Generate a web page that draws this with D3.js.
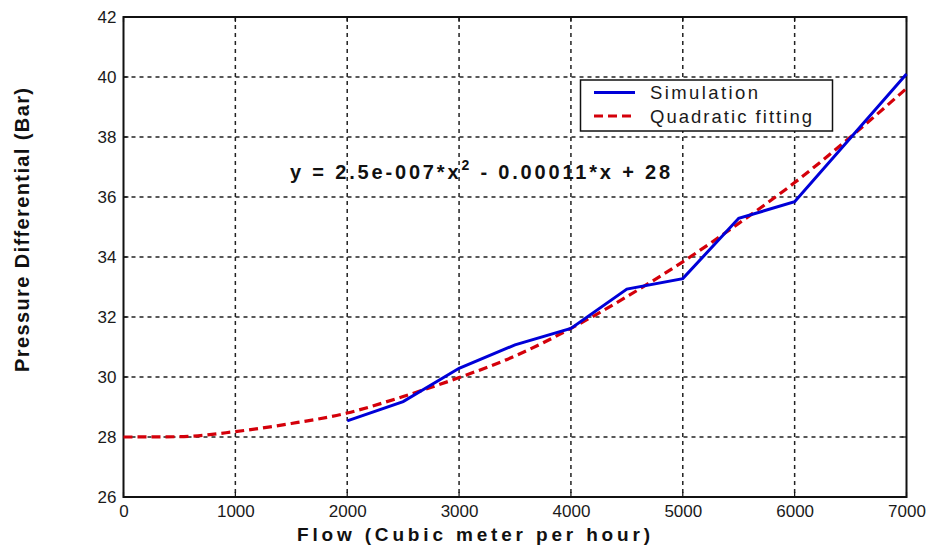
<!DOCTYPE html>
<html><head><meta charset="utf-8">
<script src="https://cdn.jsdelivr.net/npm/d3@7"></script>
<style>
body{margin:0;background:#fff;}
text{font-family:"Liberation Sans",Arial,sans-serif;}
</style></head>
<body><svg id="c" width="932" height="547"></svg>
<script>
const simFlow = [2000, 2500, 3000, 3500, 4000, 4500, 5000, 5500, 6000, 7000];
const simPressure = [28.54, 29.18, 30.29, 31.07, 31.62, 32.93, 33.28, 35.29, 35.84, 40.1];
const fitFlow = [0, 500, 1000, 1500, 2000, 2500, 3000, 3500, 4000, 4500, 5000, 5500, 6000, 6500, 7000];
const fitPressure = [28.0, 28.01, 28.18, 28.45, 28.8, 29.35, 29.98, 30.7, 31.62, 32.68, 33.84, 35.12, 36.48, 38.0, 39.62];
const xTicks = [0, 1000, 2000, 3000, 4000, 5000, 6000, 7000];
const yTicks = [26, 28, 30, 32, 34, 36, 38, 40, 42];
const seriesNames = ["Simulation", "Quadratic fitting"];

const svg = d3.select("#c");
const L = 123.5, R = 906.5, T = 17, B = 497;
const x = d3.scaleLinear().domain([0, 7000]).range([L, R]);
const y = d3.scaleLinear().domain([26, 42]).range([B, T]);

// grid
const g = svg.append("g");
g.selectAll(".vg").data(xTicks.slice(1, -1)).enter().append("line")
  .attr("x1", d => x(d)).attr("x2", d => x(d)).attr("y1", T).attr("y2", B)
  .attr("stroke", "#222").attr("stroke-width", 1.5).attr("stroke-dasharray", "4,4");
g.selectAll(".hg").data(yTicks.slice(1, -1)).enter().append("line")
  .attr("y1", d => y(d)).attr("y2", d => y(d)).attr("x1", L).attr("x2", R)
  .attr("stroke", "#222").attr("stroke-width", 1.5).attr("stroke-dasharray", "4,4");

// axes
const xa = svg.append("g").attr("transform", `translate(0,${B})`)
  .call(d3.axisBottom(x).tickValues(xTicks).tickSize(0).tickPadding(8).tickFormat(d3.format("d")));
const ya = svg.append("g").attr("transform", `translate(${L},0)`)
  .call(d3.axisLeft(y).tickValues(yTicks).tickSize(0).tickPadding(7).tickFormat(d3.format("d")));
[xa, ya].forEach(a => {
  a.select(".domain").remove();
  a.selectAll("text").attr("font-size", "17px").attr("fill", "#1a1a1a")
    .style("font-family", "'Liberation Sans',Arial,sans-serif");
});

// inner tick marks
svg.append("g").selectAll("line").data(xTicks).enter().append("line")
  .attr("x1", d => x(d)).attr("x2", d => x(d)).attr("y1", B).attr("y2", B - 5)
  .attr("stroke", "#111").attr("stroke-width", 1.2);
svg.append("g").selectAll("line").data(xTicks).enter().append("line")
  .attr("x1", d => x(d)).attr("x2", d => x(d)).attr("y1", T).attr("y2", T + 5)
  .attr("stroke", "#111").attr("stroke-width", 1.2);
svg.append("g").selectAll("line").data(yTicks).enter().append("line")
  .attr("x1", L).attr("x2", L + 5).attr("y1", d => y(d)).attr("y2", d => y(d))
  .attr("stroke", "#111").attr("stroke-width", 1.2);
svg.append("g").selectAll("line").data(yTicks).enter().append("line")
  .attr("x1", R).attr("x2", R - 5).attr("y1", d => y(d)).attr("y2", d => y(d))
  .attr("stroke", "#111").attr("stroke-width", 1.2);

// frame
svg.append("rect").attr("x", L).attr("y", T).attr("width", R - L).attr("height", B - T)
  .attr("fill", "none").attr("stroke", "#111").attr("stroke-width", 2);

// series
const simData = simFlow.map((f, i) => [f, simPressure[i]]);
const fitData = fitFlow.map((f, i) => [f, fitPressure[i]]);
svg.append("path").datum(fitData)
  .attr("d", d3.line().x(d => x(d[0])).y(d => y(d[1])).curve(d3.curveMonotoneX))
  .attr("fill", "none").attr("stroke", "#d4000a").attr("stroke-width", 3.2).attr("stroke-dasharray", "9,5");
svg.append("path").datum(simData)
  .attr("d", d3.line().x(d => x(d[0])).y(d => y(d[1])))
  .attr("fill", "none").attr("stroke", "#0000d8").attr("stroke-width", 3);

// equation
const eq = svg.append("text").attr("x", 290).attr("y", 179).attr("font-size", "20px")
  .attr("font-weight", "bold").attr("fill", "#111");
eq.append("tspan").text("y = 2.5e-007*x");
eq.append("tspan").attr("dy", -9).attr("font-size", "14px").text("2");
eq.append("tspan").attr("dy", 9).text(" - 0.00011*x + 28");
{
  const w = eq.node().getBBox().width;
  const n = "y = 2.5e-007*x2 - 0.00011*x + 28".length;
  eq.style("letter-spacing", ((383 - w) / n) + "px");
}

// legend
const lg = svg.append("g");
lg.append("rect").attr("x", 580.5).attr("y", 80).attr("width", 252).attr("height", 51)
  .attr("fill", "#fff").attr("stroke", "#111").attr("stroke-width", 1.5);
const rows = [{c: "#0000d8", dash: null, y: 92.5, w: 108}, {c: "#d4000a", dash: "9,5", y: 116, w: 162}];
rows.forEach((r, i) => {
  lg.append("line").attr("x1", 594).attr("x2", 635).attr("y1", r.y).attr("y2", r.y)
    .attr("stroke", r.c).attr("stroke-width", 3).attr("stroke-dasharray", r.dash);
  lg.append("text").attr("x", 650).attr("y", r.y + 6.5).attr("font-size", "18.5px").attr("fill", "#1a1a1a")
    .attr("textLength", r.w).attr("lengthAdjust", "spacing")
    .text(seriesNames[i]);
});

// axis titles
svg.append("text").attr("x", 297).attr("y", 541).attr("font-size", "19px").attr("font-weight", "bold")
  .attr("fill", "#111").attr("textLength", 353).attr("lengthAdjust", "spacing")
  .text("Flow (Cubic meter per hour)");
svg.append("text").attr("transform", "translate(29,372) rotate(-90)").attr("font-size", "20px")
  .attr("font-weight", "bold").attr("fill", "#111").attr("textLength", 284).attr("lengthAdjust", "spacing")
  .text("Pressure Differential (Bar)");
</script></body></html>
